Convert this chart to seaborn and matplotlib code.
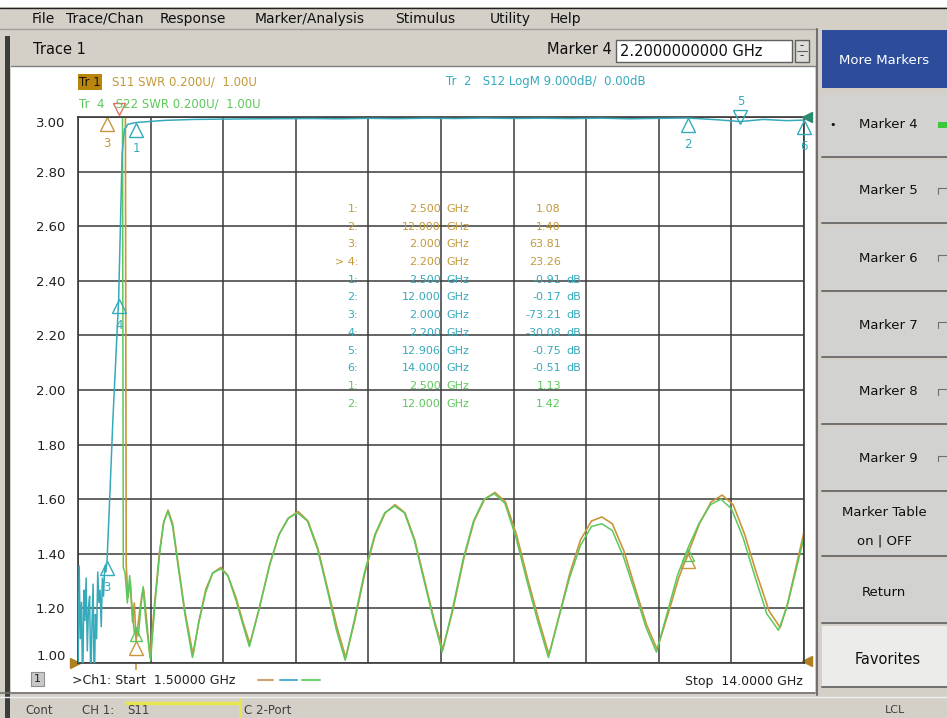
import matplotlib
matplotlib.use("Agg")
import matplotlib.pyplot as plt
import seaborn as sns
from matplotlib.patches import Rectangle
from matplotlib.lines import Line2D
from matplotlib import transforms

# --- Trace data ---
# Tr 1: S11 SWR (orange)
s11_freq = [1.50, 1.80, 2.00, 2.20, 2.30, 2.33, 2.36, 2.40, 2.44, 2.47, 2.50, 2.55, 2.60, 2.63, 2.68, 2.74,
            2.82, 2.90, 2.97, 3.05, 3.13, 3.22, 3.34, 3.48, 3.58, 3.70, 3.82, 3.96, 4.08, 4.22, 4.34, 4.46,
            4.62, 4.80, 4.96, 5.12, 5.29, 5.46, 5.63, 5.80, 5.96, 6.11, 6.27, 6.44, 6.62, 6.79, 6.96, 7.13,
            7.30, 7.47, 7.63, 7.78, 7.95, 8.14, 8.32, 8.50, 8.68, 8.86, 9.05, 9.24, 9.43, 9.61, 9.78, 9.97,
            10.15, 10.34, 10.52, 10.70, 10.90, 11.10, 11.29, 11.47, 11.66, 11.84, 12.00, 12.20, 12.40, 12.59,
            12.78, 12.98, 13.18, 13.40, 13.59, 13.72, 13.86, 14.00]
s11_swr = [75.0, 70.0, 63.81, 23.26, 5.0, 1.36, 1.24, 1.30, 1.15, 1.22, 1.08, 1.17, 1.25, 1.27, 1.16, 1.02,
           1.22, 1.40, 1.51, 1.56, 1.51, 1.37, 1.19, 1.03, 1.15, 1.27, 1.33, 1.35, 1.32, 1.24, 1.15, 1.07,
           1.20, 1.36, 1.47, 1.53, 1.555, 1.52, 1.42, 1.27, 1.13, 1.02, 1.16, 1.33, 1.47, 1.55, 1.58, 1.55,
           1.45, 1.30, 1.16, 1.05, 1.19, 1.38, 1.52, 1.60, 1.625, 1.59, 1.47, 1.31, 1.16, 1.03, 1.17, 1.33,
           1.45, 1.52, 1.535, 1.51, 1.41, 1.27, 1.14, 1.05, 1.18, 1.31, 1.40, 1.51, 1.59, 1.615,
           1.58, 1.47, 1.33, 1.19, 1.13, 1.22, 1.35, 1.48]

# Tr 4: S22 SWR (green)
s22_freq = [1.50, 1.80, 2.00, 2.20, 2.25, 2.28, 2.31, 2.35, 2.39, 2.43, 2.47, 2.50, 2.54, 2.58, 2.62, 2.67, 2.75,
            2.83, 2.91, 2.98, 3.05, 3.13, 3.22, 3.34, 3.47, 3.58, 3.70, 3.82, 3.96, 4.08, 4.22, 4.34, 4.45,
            4.62, 4.80, 4.96, 5.12, 5.28, 5.45, 5.62, 5.79, 5.95, 6.10, 6.26, 6.43, 6.61, 6.78, 6.95, 7.12,
            7.29, 7.46, 7.62, 7.77, 7.94, 8.13, 8.31, 8.49, 8.67, 8.85, 9.04, 9.23, 9.42, 9.60, 9.77, 9.96,
            10.15, 10.34, 10.52, 10.70, 10.89, 11.09, 11.28, 11.46, 11.64, 11.82, 12.00, 12.19, 12.39, 12.57,
            12.75, 12.95, 13.15, 13.36, 13.56, 13.70, 13.85, 14.00]
s22_swr = [60.0, 55.0, 40.0, 12.0, 5.0, 1.35, 1.33, 1.22, 1.32, 1.20, 1.11, 1.13, 1.10, 1.20, 1.28, 1.15, 1.01,
           1.23, 1.41, 1.52, 1.555, 1.50, 1.36, 1.18, 1.02, 1.15, 1.26, 1.33, 1.345, 1.32, 1.23, 1.14, 1.06,
           1.20, 1.36, 1.47, 1.53, 1.55, 1.52, 1.42, 1.27, 1.12, 1.01, 1.16, 1.33, 1.47, 1.55, 1.575, 1.55,
           1.45, 1.30, 1.16, 1.04, 1.19, 1.38, 1.52, 1.60, 1.62, 1.585, 1.46, 1.30, 1.15, 1.02, 1.16, 1.31,
           1.43, 1.50, 1.51, 1.485, 1.39, 1.26, 1.13, 1.04, 1.18, 1.32, 1.42, 1.51, 1.58, 1.60,
           1.565, 1.46, 1.32, 1.18, 1.12, 1.20, 1.33, 1.46]

# Tr 2: S12 LogM in dB (cyan)
s12_freq = [1.50, 1.52, 1.54, 1.56, 1.58, 1.60, 1.62, 1.64, 1.66, 1.68, 1.70, 1.72, 1.74, 1.76, 1.78,
            1.80, 1.82, 1.84, 1.86, 1.88, 1.90, 1.92, 1.94, 1.96, 1.98, 2.00, 2.05, 2.10, 2.15, 2.20,
            2.23, 2.26, 2.30, 2.36, 2.45, 2.50, 3.00, 3.50, 4.00, 4.50, 5.00, 5.50, 6.00, 6.50, 7.00,
            7.50, 8.00, 8.50, 9.00, 9.50, 10.00, 10.50, 11.00, 11.50, 12.00, 12.50, 12.906, 13.30, 13.70, 14.00]
s12_db = [-92, -74, -86, -80, -95, -78, -83, -76, -88, -81, -79, -93, -84, -77, -95,
          -82, -86, -75, -80, -78, -84, -76, -79, -74, -75, -73.21, -62, -50, -40, -30.08,
          -18, -6, -2.0, -1.2, -1.0, -0.91, -0.55, -0.40, -0.35, -0.30, -0.28, -0.25, -0.30, -0.22, -0.27,
          -0.20, -0.25, -0.18, -0.24, -0.20, -0.26, -0.19, -0.30, -0.22, -0.17, -0.45, -0.75, -0.40, -0.60, -0.51]

# Markers
s11_mk_freq = [2.5, 12.0, 2.0, 2.2]
s11_mk_val = [1.08, 1.40, 63.81, 23.26]
s12_mk_freq = [2.5, 12.0, 2.0, 2.2, 12.906, 14.0]
s12_mk_val = [-0.91, -0.17, -73.21, -30.08, -0.75, -0.51]
s22_mk_freq = [2.5, 12.0]
s22_mk_val = [1.13, 1.42]

# Marker table text
tbl_s11 = [("1:", "2.500", "1.08"), ("2:", "12.000", "1.40"), ("3:", "2.000", "63.81"), ("> 4:", "2.200", "23.26")]
tbl_s12 = [("1:", "2.500", "-0.91"), ("2:", "12.000", "-0.17"), ("3:", "2.000", "-73.21"),
           ("4:", "2.200", "-30.08"), ("5:", "12.906", "-0.75"), ("6:", "14.000", "-0.51")]
tbl_s22 = [("1:", "2.500", "1.13"), ("2:", "12.000", "1.42")]

y_ticks = [1.00, 1.20, 1.40, 1.60, 1.80, 2.00, 2.20, 2.40, 2.60, 2.80, 3.00]
x_grid = [1.5, 2.75, 4.0, 5.25, 6.5, 7.75, 9.0, 10.25, 11.5, 12.75, 14.0]
menu_items = [("File", 32), ("Trace/Chan", 66), ("Response", 160), ("Marker/Analysis", 255),
              ("Stimulus", 395), ("Utility", 490), ("Help", 550)]
side_buttons = ["Marker 4", "Marker 5", "Marker 6", "Marker 7", "Marker 8", "Marker 9"]

ORANGE = "#c8963c"
ORANGE_T = "#c39a3a"
GREEN = "#5cc85c"
CYAN = "#35aabb"
GRID = "#3a3a3a"
WIN = "#d4d0c8"

W, H = 947, 718
sns.set_theme(style="white")
plt.rcParams["font.family"] = ["DejaVu Sans"]

fig = plt.figure(figsize=(W / 100, H / 100), dpi=100, facecolor=WIN)


def fx(x):
    return x / W


def fy(y):
    return 1 - y / H


def rect(x0, y0, x1, y1, fc, ec="none", lw=0.0, z=-5):
    fig.add_artist(Rectangle((fx(x0), fy(y1)), (x1 - x0) / W, (y1 - y0) / H, transform=fig.transFigure,
                             facecolor=fc, edgecolor=ec, lw=lw, zorder=z))


def line(x0, y0, x1, y1, color, lw=1.0, z=-4):
    fig.add_artist(Line2D([fx(x0), fx(x1)], [fy(y0), fy(y1)], transform=fig.transFigure,
                          color=color, lw=lw, zorder=z))


def txt(x, y, s, size=9, color="#101010", ha="left", va="center", **kw):
    fig.text(fx(x), fy(y), s, fontsize=size, color=color, ha=ha, va=va, **kw)


# window chrome
rect(0, 0, W, 7, "white")
line(0, 7.5, W, 7.5, "#202020", 1)
line(0, 29, 815, 29, "#a0a0a0", 1)
rect(11, 66, 815, 692, "white")
line(11, 66, 815, 66, "#808080", 1)
rect(5, 36, 10, 718, "#3c3c3c")
line(0, 693, 815, 693, "#707070", 1.2)
line(0, 697, W, 697, "#f0f0f0", 1)

for name, x in menu_items:
    txt(x, 19, name, size=10)
txt(33, 50, "Trace 1", size=10.5)
txt(612, 50, "Marker 4", size=10.5, ha="right")
rect(616, 40, 792, 62, "white", ec="#606060", lw=1, z=-3)
txt(620, 51, "2.2000000000 GHz", size=10.5)
rect(795, 40, 809, 62, "#e0ddd8", ec="#606060", lw=1, z=-3)
line(797, 51, 807, 51, "#606060", 0.8, z=-2)
txt(802, 46, "\u2013", size=6, ha="center")
txt(802, 56, "\u2013", size=6, ha="center")

# right soft-key panel
line(817, 29, 817, 695, "#707070", 1.5)
rect(822, 30, W, 88, "#2d4d9c", z=-3)
txt(884, 60, "More Markers", size=9.5, color="white", ha="center")
sep_y = [92, 158, 224, 292, 358, 425, 492, 557, 624, 688]
for i in range(len(sep_y) - 1):
    fc = "#ececea" if i == len(sep_y) - 2 else "#d2d2d0"
    rect(822, sep_y[i] + 2, W, sep_y[i + 1] - 2, fc, z=-3)
    line(822, sep_y[i + 1] - 1.5, W, sep_y[i + 1] - 1.5, "#707070", 1.4, z=-2)
for i, name in enumerate(side_buttons):
    yc = (sep_y[i] + sep_y[i + 1]) / 2
    txt(888, yc, name, size=9.5, ha="center")
    if i == 0:
        rect(938, yc - 3, 947, yc + 3, "#3cc83c", z=-1)
        txt(833, yc, "\u2022", size=8, ha="center")
    else:
        line(938, yc - 3, 947, yc - 3, "#707070", 0.8, z=-1)
        line(938, yc - 3, 938, yc + 3, "#707070", 0.8, z=-1)
txt(884, 513, "Marker Table", size=9.5, ha="center")
txt(884, 541, "on | OFF", size=9.5, ha="center")
txt(884, 592, "Return", size=9.5, ha="center")
txt(888, 660, "Favorites", size=10.5, ha="center")
txt(895, 710, "LCL", size=8, color="#404040", ha="center")

# status bar
txt(25, 710, "Cont", size=8.5, color="#404040")
txt(82, 710, "CH 1:", size=8.5, color="#404040")
txt(127, 710, "S11", size=8.5, color="#404040")
line(126, 703, 240, 703, "#e6e650", 2.5, z=-3)
line(240, 699, 240, 718, "#e6e650", 2, z=-3)
txt(244, 710, "C 2-Port", size=8.5, color="#404040")

# main grid
ax = fig.add_axes([fx(78), fy(663), 726 / W, 546 / H])
ax.set_facecolor("white")
sns.lineplot(x=s11_freq, y=s11_swr, ax=ax, color=ORANGE, lw=1.2, errorbar=None, sort=False)
sns.lineplot(x=s22_freq, y=s22_swr, ax=ax, color=GREEN, lw=1.1, errorbar=None, sort=False)
ax.set_xlim(1.5, 14.0)
ax.set_ylim(1.0, 3.0)
ax.set_xticks(x_grid)
ax.set_xticklabels([])
ax.set_yticks(y_ticks)
ax.set_yticklabels([f"{v:.2f}" for v in y_ticks], fontsize=9.5, color="#202020")
labs = ax.get_yticklabels()
labs[0].set_va("bottom")
labs[-1].set_va("top")
ax.tick_params(axis="both", length=0, pad=9)
ax.grid(True, color=GRID, lw=1.1)
for sp in ax.spines.values():
    sp.set_color(GRID)
    sp.set_linewidth(1.2)

ax2 = ax.twinx()
sns.lineplot(x=s12_freq, y=s12_db, ax=ax2, color=CYAN, lw=1.1, errorbar=None, sort=False)
ax2.set_ylim(-90, 0)
ax2.set_xlim(1.5, 14.0)
ax2.set_yticks([])
for sp in ax2.spines.values():
    sp.set_visible(False)

below = transforms.offset_copy(ax.transData, fig=fig, x=0, y=-7, units="dots")
below2 = transforms.offset_copy(ax2.transData, fig=fig, x=0, y=-7, units="dots")
above2 = transforms.offset_copy(ax2.transData, fig=fig, x=0, y=5, units="dots")

# S12 markers (cyan)
for i, (f, v) in enumerate(zip(s12_mk_freq, s12_mk_val)):
    if i == 4:
        ax2.plot(f, v, marker="v", ms=10, mfc="none", mec=CYAN, mew=1, transform=above2, clip_on=False)
        ax2.annotate(str(i + 1), (f, v), xytext=(0, 20), textcoords="offset pixels", ha="center",
                     va="center", fontsize=8.5, color=CYAN, annotation_clip=False)
    else:
        ax2.plot(f, v, marker="^", ms=10, mfc="none", mec=CYAN, mew=1, transform=below2, clip_on=False)
        ax2.annotate(str(i + 1), (f, v), xytext=(0, -26), textcoords="offset pixels", ha="center",
                     va="center", fontsize=8.5, color=CYAN, annotation_clip=False)

# S11 markers (orange); off-scale ones sit on the top edge
for i, (f, v) in enumerate(zip(s11_mk_freq, s11_mk_val)):
    yv = min(v, 3.0)
    if i == 3:
        up = transforms.offset_copy(ax.transData, fig=fig, x=0, y=8, units="dots")
        ax.plot(f, yv, marker="v", ms=9, mfc="none", mec="#e07060", mew=1, transform=up, clip_on=False)
        continue
    ax.plot(f, yv, marker="^", ms=10, mfc="none", mec=ORANGE, mew=1, transform=below, clip_on=False)
    if i == 2:
        ax.annotate("3", (f, yv), xytext=(0, -26), textcoords="offset pixels", ha="center", va="center",
                    fontsize=8.5, color=ORANGE_T, annotation_clip=False)
ax.plot(s11_mk_freq[0], 1.0, marker="|", ms=6, color=ORANGE, mew=1.2,
        transform=transforms.offset_copy(ax.transData, fig=fig, x=0, y=-3, units="dots"), clip_on=False)

# S22 markers (green)
for f, v in zip(s22_mk_freq, s22_mk_val):
    ax.plot(f, v, marker="^", ms=9, mfc="none", mec=GREEN, mew=1, transform=below, clip_on=False)

# reference level arrows
ax.plot(1.5, 1.0, marker=">", ms=7, color="#b08020", clip_on=False,
        transform=transforms.offset_copy(ax.transData, fig=fig, x=-3, y=0, units="dots"))
ax.plot(14.0, 1.0, marker="<", ms=7, color="#b08020", clip_on=False,
        transform=transforms.offset_copy(ax.transData, fig=fig, x=3, y=2, units="dots"))
ax2.plot(14.0, 0.0, marker="<", ms=7, color="#2a8a70", clip_on=False,
         transform=transforms.offset_copy(ax2.transData, fig=fig, x=3, y=0, units="dots"))

# trace titles
txt(79, 82, "Tr 1", size=8.5, color="#1a1000",
    bbox=dict(boxstyle="square,pad=0.12", facecolor="#b8860b", edgecolor="none"))
txt(112, 82, "S11 SWR 0.200U/  1.00U", size=8.5, color=ORANGE_T)
txt(79, 104, "Tr  4   S22 SWR 0.200U/  1.00U", size=8.5, color=GREEN)
txt(446, 82, "Tr  2   S12 LogM 9.000dB/  0.00dB", size=8.5, color=CYAN)

# marker table
row_y = 209
for rows, col in ((tbl_s11, ORANGE_T), (tbl_s12, CYAN), (tbl_s22, GREEN)):
    for idx, freq, val in rows:
        txt(358, row_y, idx, size=8, color=col, ha="right")
        txt(441, row_y, freq, size=8, color=col, ha="right")
        txt(446, row_y, "GHz", size=8, color=col)
        txt(561, row_y, val, size=8, color=col, ha="right")
        if col == CYAN:
            txt(566, row_y, "dB", size=8, color=col)
        row_y += 17.7

# bottom annotation line
rect(31, 672, 44, 686, "#c8c8c8", ec="#909090", lw=0.8, z=-3)
txt(37.5, 679, "1", size=8, ha="center", color="#202020")
txt(72, 680, ">Ch1: Start  1.50000 GHz", size=9, color="#202020")
line(258, 680, 273, 680, "#d0a070", 1.5, z=-2)
line(280, 680, 297, 680, "#50b0d0", 1.5, z=-2)
line(302, 680, 320, 680, "#70d070", 1.5, z=-2)
txt(803, 681, "Stop  14.0000 GHz", size=9, color="#202020", ha="right")

fig.savefig("out.png", dpi=100, facecolor=WIN)
